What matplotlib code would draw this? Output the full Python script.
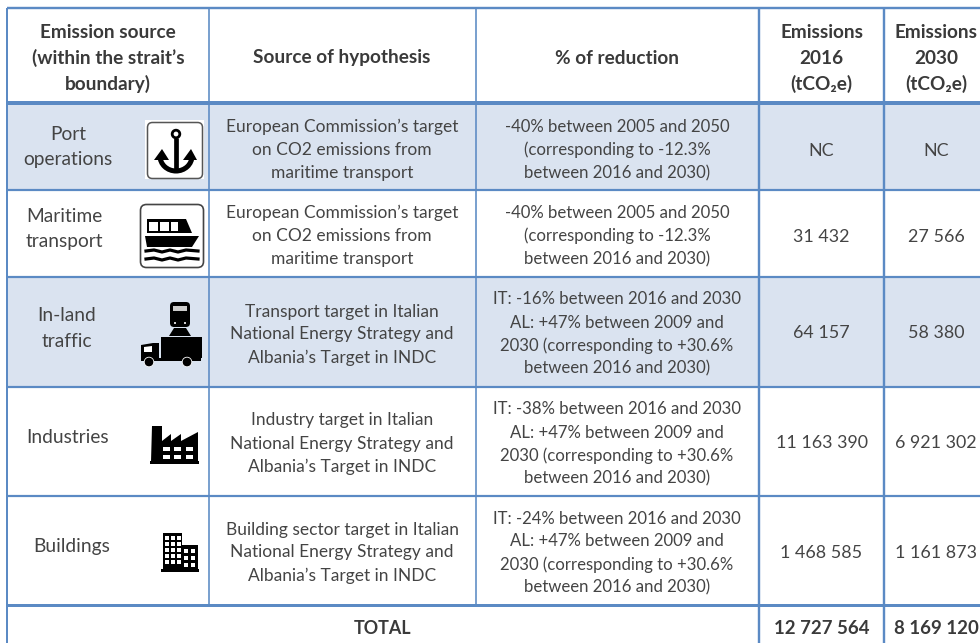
import matplotlib
matplotlib.use("Agg")
import matplotlib.pyplot as plt
from matplotlib.patches import Rectangle, FancyBboxPatch, Polygon, Circle, Arc

plt.rcParams['font.family'] = ['Lato', 'DejaVu Sans']

headers = [["Emission source", "(within the strait\u2019s", "boundary)"],
           ["Source of hypothesis"], ["% of reduction"],
           ["Emissions", "2016", "(tCO\u2082e)"], ["Emissions", "2030", "(tCO\u2082e)"]]
sources = [["Port", "operations"], ["Maritime", "transport"], ["In-land", "traffic"],
           ["Industries"], ["Buildings"]]
hypotheses = [
    ["European Commission\u2019s target", "on CO2 emissions from", "maritime transport"],
    ["European Commission\u2019s target", "on CO2 emissions from", "maritime transport"],
    ["Transport target in Italian", "National Energy Strategy and", "Albania\u2019s Target in INDC"],
    ["Industry target in Italian", "National Energy Strategy and", "Albania\u2019s Target in INDC"],
    ["Building sector target in Italian", "National Energy Strategy and", "Albania\u2019s Target in INDC"],
]
al = ["AL: +47% between 2009 and", "2030 (corresponding to +30.6%", "between 2016 and 2030)"]
ship = ["-40% between 2005 and 2050", "(corresponding to -12.3%", "between 2016 and 2030)"]
reductions = [ship, ship, ["IT: -16% between 2016 and 2030"] + al,
              ["IT: -38% between 2016 and 2030"] + al, ["IT: -24% between 2016 and 2030"] + al]
em2016 = ["NC", "31 432", "64 157", "11 163 390", "1 468 585"]
em2030 = ["NC", "27 566", "58 380", "6 921 302", "1 161 873"]
total_label = "TOTAL"
total2016 = "12 727 564"
total2030 = "8 169 120"

LINE = "#5b8ac4"
FILL = "#dae3f0"
TXT = "#444444"
BOLD = "#3a3a3a"
FS = 12.4

fig = plt.figure(figsize=(9.8, 6.43), dpi=100)
ax = fig.add_axes([0, 0, 1, 1])
ax.set_xlim(0, 980)
ax.set_ylim(643, 0)
ax.axis("off")

xs = [7, 208.5, 476, 759, 884, 990]
ys = [8, 103, 190, 277, 387, 496, 605, 650]
ccx = [108, 342, 617, 821.5, 936]
shaded = [1, 3]
for r in shaded:
    ax.add_patch(Rectangle((xs[0], ys[r]), 985, ys[r + 1] - ys[r], fc=FILL, ec="none", zorder=0))

# grid
hw = [2.4, 4, 2.2, 2.2, 2.2, 2.2, 3, 2]
for y, w in zip(ys, hw):
    ax.plot([xs[0], 980], [y, y], color=LINE, lw=w * 0.72, zorder=2, solid_capstyle="butt")
vw = [2, 1.6, 1.6, 2.4, 2.4]
for i, (x, w) in enumerate(zip(xs[:5], vw)):
    bottom = 643 if i in (0, 3, 4) else ys[6]
    ax.plot([x, x], [ys[0], bottom], color=LINE, lw=w * 0.72, zorder=2, solid_capstyle="butt")


def block(x, yc, lines, step=23, **kw):
    n = len(lines)
    for i, s in enumerate(lines):
        ax.text(x, yc + (i - (n - 1) / 2) * step, s, ha="center", va="center_baseline",
                fontsize=kw.get("fs", FS), color=kw.get("color", TXT),
                fontweight=kw.get("weight", "normal"), zorder=5)


# header
for j, lines in enumerate(headers):
    block(ccx[j], 56.5, lines, step=25.5, weight="bold", color=BOLD, fs=13.7)

# first column labels
src_pos = [(68, 145.5), (64, 227.5), (67, 327), (68, 436), (72, 545)]
for (x, y), lines in zip(src_pos, sources):
    block(x, y, lines, step=25.5, fs=13.8)

row_c = [148.5, 234.5, 333, 442, 551]
red_c = [148.5, 234.5, 332.5, 442.5, 551.5]
val_c = [149, 235, 332, 441, 551]
for i in range(5):
    block(ccx[1], row_c[i], hypotheses[i], fs=12.5)
    block(ccx[2], red_c[i], reductions[i], fs=12.1)
    block(ccx[3], val_c[i], [em2016[i]], fs=12.9)
    block(ccx[4], val_c[i], [em2030[i]], fs=12.9)

block(383, 627, [total_label], weight="bold", color=BOLD, fs=12.9)
block(ccx[3], 627, [total2016], weight="bold", color=BOLD, fs=13.4)
block(ccx[4], 627, [total2030], weight="bold", color=BOLD, fs=13.4)

K = "#000000"
Z = 6


def poly(pts, c=K):
    ax.add_patch(Polygon(pts, closed=True, fc=c, ec="none", zorder=Z))


def rect(x, y, w, h, c=K):
    ax.add_patch(Rectangle((x, y), w, h, fc=c, ec="none", zorder=Z))


# anchor icon
rect(145, 120, 59, 59, "#ffffff")
ax.add_patch(FancyBboxPatch((147.5, 122.5), 55, 56, boxstyle="round,pad=0,rounding_size=5",
                            fc="white", ec="#555555", lw=1.1, zorder=Z))
Z = 7
ax.add_patch(Circle((176, 134), 3.8, fc="none", ec=K, lw=2, zorder=Z))
ax.plot([176, 176], [138, 170], color=K, lw=3.4, zorder=Z, solid_capstyle="butt")
ax.add_patch(Arc((176, 156), 32, 30, theta1=0, theta2=180, ec=K, lw=3.6, zorder=Z))
poly([(154, 160), (162, 149), (169, 160)])
poly([(183, 160), (191, 149), (197, 160)])

# boat icon
ax.add_patch(FancyBboxPatch((140.5, 204.5), 63, 63, boxstyle="round,pad=0,rounding_size=6",
                            fc="white", ec="#444444", lw=1.2, zorder=7))
Z = 8
poly([(147, 219), (186, 219), (192, 233), (147, 233)])
for x0, w in [(149, 9), (160, 9), (171, 7)]:
    rect(x0, 222, w, 9, "white")
poly([(145, 236), (199, 236), (192, 247), (147, 247)])
for y0 in (251, 259):
    ax.plot([146, 154, 162, 170, 178, 186, 198], [y0, y0 - 1, y0 + 1, y0 - 1, y0 + 1, y0 - 1, y0],
            color=K, lw=2.3, zorder=Z)

# train and truck icon
ax.add_patch(FancyBboxPatch((170, 302), 20, 25, boxstyle="round,pad=0,rounding_size=4",
                            fc=K, ec="none", zorder=Z))
rect(173, 306, 14, 5, "#cccccc")
rect(174, 322, 2, 2, "#cccccc")
rect(184, 322, 2, 2, "#cccccc")
poly([(174, 328), (186, 328), (191, 336), (169, 336)])
rect(161, 337, 41, 21)
poly([(141, 345), (153, 343), (159, 343), (159, 360), (141, 360)])
poly([(144, 347), (152, 346), (152, 352), (144, 352)], "white")
rect(141, 358, 60, 3)
for cx in (149, 187):
    ax.add_patch(Circle((cx, 362), 4.8, fc=K, ec="white", lw=0.6, zorder=Z + 1))

# factory icon
poly([(152, 426), (162, 426), (162, 441), (171, 434), (171, 441), (181, 434), (181, 441),
      (198, 432), (198, 462), (151, 462)])
rect(150, 461, 49, 3)
for x0 in (163, 174, 186):
    for y0 in (447, 455):
        rect(x0, y0, 7, 4, "white")

# building icon
rect(163, 533, 19, 38)
rect(181, 545, 17, 26)
rect(161, 569, 38, 2.5)
for x0 in (165, 171, 177):
    for y0 in (536, 542, 548, 554, 560):
        rect(x0, y0, 4, 4, "white")
for x0 in (184, 191):
    for y0 in (549, 556, 563):
        rect(x0, y0, 4, 4, "white")

fig.savefig("out.png", dpi=100, facecolor="white")
